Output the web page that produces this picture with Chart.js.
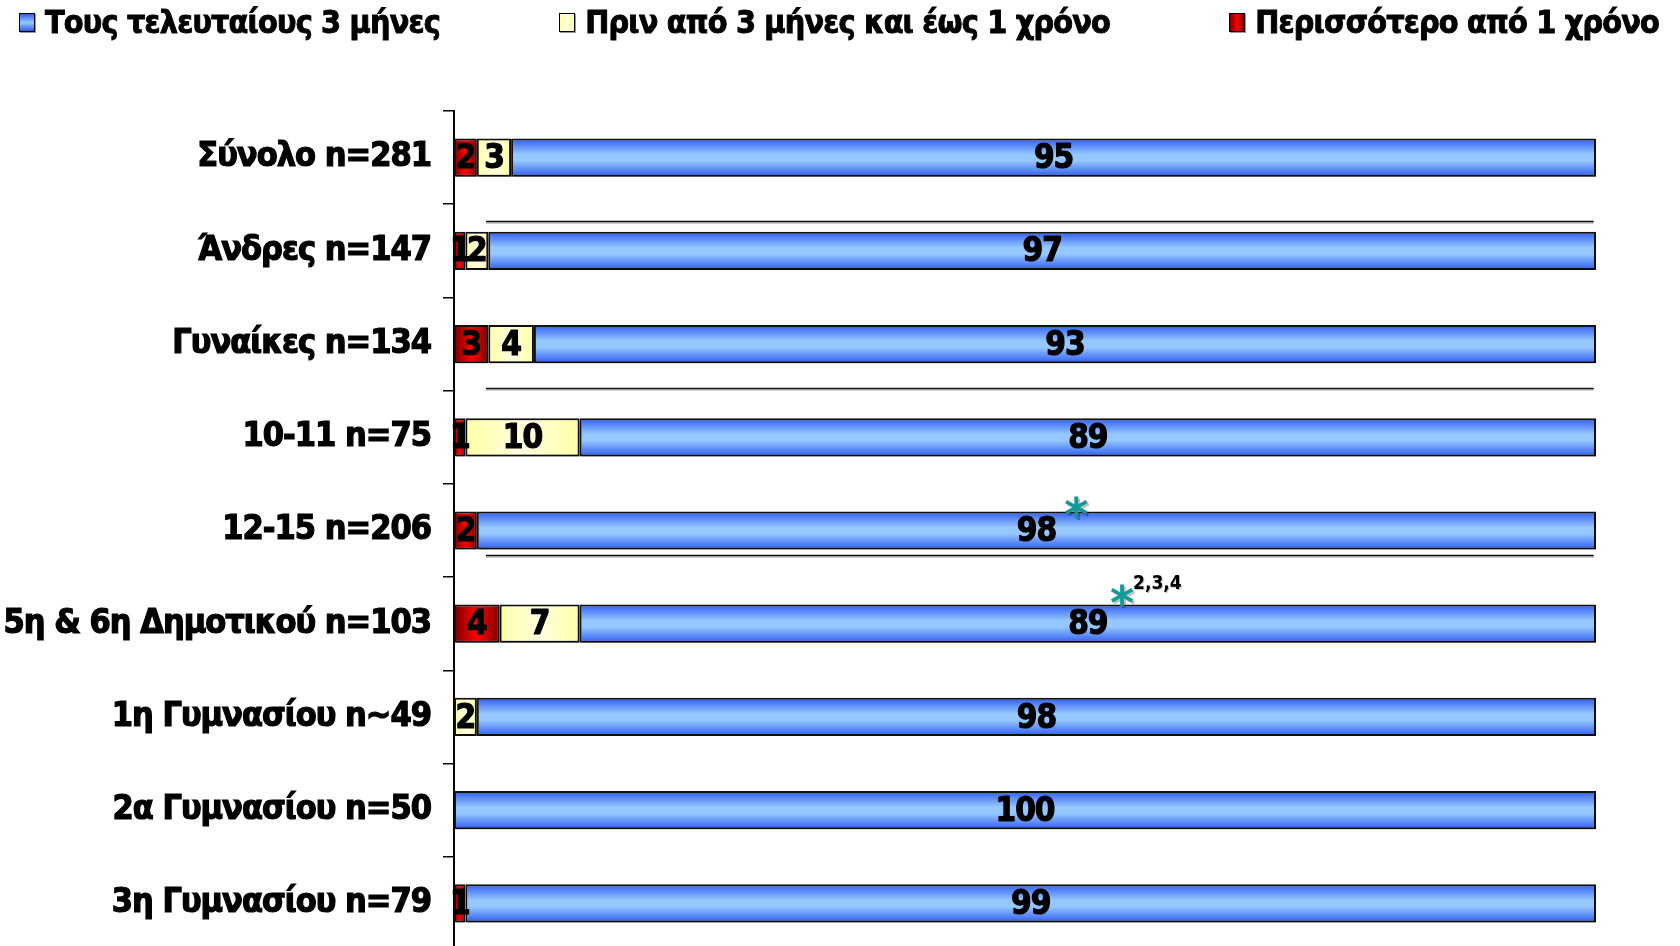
<!DOCTYPE html>
<html lang="el">
<head>
<meta charset="utf-8">
<title>Τελευταία επίσκεψη</title>
<script src="https://cdn.jsdelivr.net/npm/chart.js@4.4.1/dist/chart.umd.min.js"></script>
<style>
  html, body { margin: 0; padding: 0; background: #fff; }
  #wrap { position: relative; width: 1680px; height: 946px; overflow: hidden; }
  #legend {
    position: absolute; left: 19px; top: 3px; width: 1640px;
    display: flex; justify-content: space-between; align-items: center;
    font: bold 32px 'DejaVu Sans Condensed', 'DejaVu Sans', sans-serif;
    letter-spacing: -0.8px; color: #000; z-index: 2;
    -webkit-text-stroke: 0.9px #000;
  }
  .item { display: flex; align-items: center; white-space: nowrap; }
  .box { width: 14px; height: 17px; border: 1.5px solid #000; margin-right: 10px; box-shadow: 1px 1px 0 #999; }
  #visitChart { position: absolute; left: 0; top: 0; }
</style>
</head>
<body>
<div id="wrap">
  <div id="legend"></div>
  <canvas id="visitChart"></canvas>
</div>
<script>
const categories = ['Σύνολο n=281', 'Άνδρες n=147', 'Γυναίκες n=134', '10-11 n=75', '12-15 n=206',
  '5η & 6η Δημοτικού n=103', '1η Γυμνασίου n~49', '2α Γυμνασίου n=50', '3η Γυμνασίου n=79'];
const seriesNames = ['Περισσότερο από 1 χρόνο', 'Πριν από 3 μήνες και έως 1 χρόνο', 'Τους τελευταίους 3 μήνες'];
const moreThanYear = [2, 1, 3, 1, 2, 4, 0, 0, 1];
const threeToTwelve = [3, 2, 4, 10, 0, 7, 2, 0, 0];
const lastThreeMonths = [95, 97, 93, 89, 98, 89, 98, 100, 99];

// significance marks: category (fractional, so it sits above the bar), value on x, note
const sigCategory = [3.75, 4.69];
const sigValue = [54.5, 58.5];
const sigNote = ['', '2,3,4'];

// thin divider lines between groups (fractional category positions)
const dividerAt = [0.68, 2.47, 4.26];

const FONT = '"DejaVu Sans Condensed", "DejaVu Sans", sans-serif';
const BAR_SHARE = 0.41;

function barBand(chart, index) {
  const y = chart.scales.y;
  const half = (y.bottom - y.top) / categories.length * BAR_SHARE / 2;
  const c = y.getPixelForValue(index);
  return [c - half, c + half];
}

function blueFill(context) {
  const chart = context.chart;
  if (context.type !== 'data' || !chart.scales.y) return '#6fa0ff';
  const [top, bottom] = barBand(chart, context.dataIndex);
  if (!isFinite(top) || !isFinite(bottom) || bottom - top < 1) return '#6fa0ff';
  const g = chart.ctx.createLinearGradient(0, top, 0, bottom);
  g.addColorStop(0, '#2e5cf2');
  g.addColorStop(0.42, '#96c8ff');
  g.addColorStop(0.58, '#96c8ff');
  g.addColorStop(1, '#2e5cf2');
  return g;
}

function sideFill(start, values, edge, mid) {
  return function (context) {
    const chart = context.chart;
    if (context.type !== 'data' || !chart.scales.x) return mid;
    const i = context.dataIndex;
    const from = start ? start[i] : 0;
    const x0 = chart.scales.x.getPixelForValue(from);
    const x1 = chart.scales.x.getPixelForValue(from + values[i]);
    if (!isFinite(x0) || !isFinite(x1) || x1 - x0 < 1) return mid;
    const g = chart.ctx.createLinearGradient(x0, 0, x1, 0);
    g.addColorStop(0, edge);
    g.addColorStop(0.5, mid);
    g.addColorStop(1, edge);
    return g;
  };
}

// tighter letters, like the squeezed bold text of the original
const tightText = {
  id: 'tightText',
  beforeDraw(chart) {
    chart.ctx.letterSpacing = '-1px';
  }
};

const barShadow = {
  id: 'barShadow',
  beforeDatasetsDraw(chart) {
    const ctx = chart.ctx;
    ctx.save();
    ctx.shadowColor = 'rgba(0,0,0,0.35)';
    ctx.shadowOffsetX = 2;
    ctx.shadowOffsetY = 2;
    ctx.shadowBlur = 0;
  },
  afterDatasetsDraw(chart) {
    chart.ctx.restore();
  }
};

const valueLabels = {
  id: 'valueLabels',
  afterDatasetsDraw(chart) {
    const ctx = chart.ctx;
    ctx.save();
    ctx.shadowColor = 'transparent';
    ctx.font = 'bold 33px ' + FONT;
    ctx.fillStyle = '#000';
    ctx.strokeStyle = '#000';
    ctx.lineWidth = 1.2;
    ctx.lineJoin = 'round';
    ctx.textAlign = 'center';
    ctx.textBaseline = 'middle';
    chart.data.datasets.forEach((ds, i) => {
      chart.getDatasetMeta(i).data.forEach((bar, j) => {
        const v = ds.data[j];
        if (!v) return;
        const cx = (bar.x + bar.base) / 2;
        ctx.strokeText(String(v), cx, bar.y + 2);
        ctx.fillText(String(v), cx, bar.y + 2);
      });
    });
    ctx.restore();
  }
};

const extras = {
  id: 'extras',
  afterDraw(chart) {
    const ctx = chart.ctx;
    const x = chart.scales.x, y = chart.scales.y;
    ctx.save();
    ctx.letterSpacing = '0px';
    // dividers
    dividerAt.forEach(pos => {
      const py = Math.round(y.getPixelForValue(pos)) + 0.5;
      const x0 = x.getPixelForValue(2.8), x1 = x.getPixelForValue(99.8);
      ctx.strokeStyle = '#999';
      ctx.lineWidth = 1;
      ctx.beginPath(); ctx.moveTo(x0, py + 1.5); ctx.lineTo(x1, py + 1.5); ctx.stroke();
      ctx.strokeStyle = '#111';
      ctx.lineWidth = 1.6;
      ctx.beginPath(); ctx.moveTo(x0, py); ctx.lineTo(x1, py); ctx.stroke();
    });
    // asterisks
    sigValue.forEach((v, i) => {
      const px = x.getPixelForValue(v);
      const py = y.getPixelForValue(sigCategory[i]);
      ctx.font = 'bold 46px "DejaVu Sans", sans-serif';
      ctx.textAlign = 'center';
      ctx.textBaseline = 'alphabetic';
      const m = ctx.measureText('*');
      const base = py + (m.actualBoundingBoxAscent - m.actualBoundingBoxDescent) / 2;
      ctx.fillStyle = 'rgba(0,0,0,0.25)';
      ctx.fillText('*', px + 2, base + 2);
      ctx.fillStyle = '#12999a';
      ctx.fillText('*', px, base);
      if (sigNote[i]) {
        ctx.font = 'bold 19px ' + FONT;
        ctx.textAlign = 'left';
        ctx.textBaseline = 'middle';
        ctx.fillStyle = 'rgba(0,0,0,0.25)';
        ctx.fillText(sigNote[i], px + 12, py - 10);
        ctx.fillStyle = '#000';
        ctx.fillText(sigNote[i], px + 11, py - 11);
      }
    });
    ctx.restore();
  }
};

const datasets = [
  {
    label: seriesNames[0],
    data: moreThanYear,
    backgroundColor: sideFill(null, moreThanYear, '#7a0000', '#ff0000')
  },
  {
    label: seriesNames[1],
    data: threeToTwelve,
    backgroundColor: sideFill(moreThanYear, threeToTwelve, '#ffffa6', '#ffffe0')
  },
  {
    label: seriesNames[2],
    data: lastThreeMonths,
    backgroundColor: blueFill
  }
];
datasets.forEach(ds => {
  ds.borderColor = '#111';
  ds.borderWidth = 2;
  ds.borderSkipped = false;
  ds.barPercentage = BAR_SHARE;
  ds.categoryPercentage = 1;
  ds.clip = 6;
});

// legend in the order of the original: blue, yellow, red
const legendBox = document.getElementById('legend');
const legendSwatch = [
  'linear-gradient(#2e5cf2, #96c8ff 50%, #2e5cf2)',
  'linear-gradient(90deg, #ffffa6, #ffffe0 50%, #ffffa6)',
  'linear-gradient(90deg, #7a0000, #ff0000 50%, #7a0000)'
];
[2, 1, 0].forEach((d, k) => {
  const item = document.createElement('div');
  item.className = 'item';
  const box = document.createElement('span');
  box.className = 'box';
  box.style.background = legendSwatch[k];
  const txt = document.createElement('span');
  txt.textContent = datasets[d].label;
  item.appendChild(box);
  item.appendChild(txt);
  legendBox.appendChild(item);
});

// the axis runs past the bottom edge in the original, so the canvas is a bit taller than the frame
const canvasChart = document.getElementById('visitChart');
canvasChart.width = 1680;
canvasChart.height = 950;

const myChart = new Chart(canvasChart, {
  type: 'bar',
  data: { labels: categories, datasets: datasets },
  options: {
    indexAxis: 'y',
    responsive: false,
    animation: false,
    layout: { padding: { top: 111, right: 84, bottom: 0, left: 0 } },
    plugins: {
      legend: { display: false },
      tooltip: { enabled: false }
    },
    scales: {
      x: {
        stacked: true,
        min: 0,
        max: 100,
        display: false
      },
      y: {
        stacked: true,
        afterFit(scale) {
          scale.width = 454;
          scale.paddingTop = 0;
          scale.paddingBottom = 0;
        },
        grid: {
          drawOnChartArea: false,
          drawTicks: true,
          tickLength: 11,
          color: '#000',
          lineWidth: 1.5,
          offset: true
        },
        border: { color: '#000', width: 2 },
        ticks: {
          padding: 12,
          color: '#000',
          textStrokeColor: '#000',
          textStrokeWidth: 1.2,
          font: { family: FONT, weight: 'bold', size: 34 }
        }
      }
    }
  },
  plugins: [tightText, barShadow, valueLabels, extras]
});
</script>
</body>
</html>
